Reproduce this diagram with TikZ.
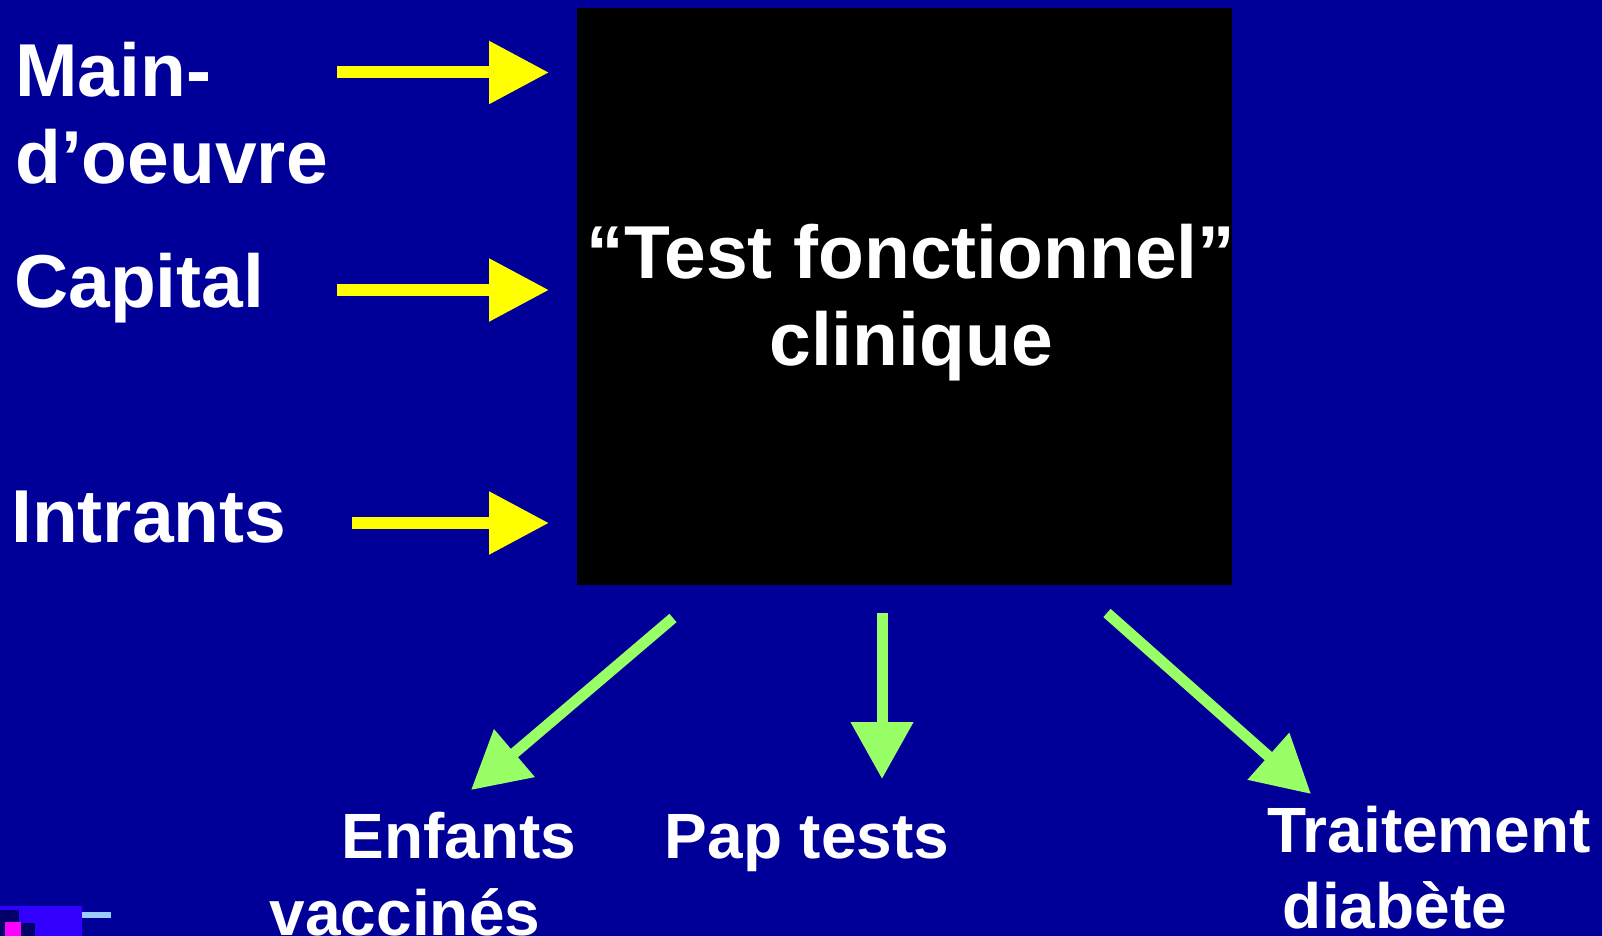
\documentclass[tikz,border=0pt]{standalone}
\usepackage{fontspec}
\setmainfont{Liberation Sans}
\usetikzlibrary{arrows.meta}
\definecolor{bgblue}{RGB}{0,0,153}
\definecolor{arrowyellow}{RGB}{255,255,0}
\definecolor{arrowgreen}{RGB}{153,255,102}
\definecolor{decoblue}{RGB}{51,0,255}
\definecolor{deconavy}{RGB}{0,0,102}
\definecolor{decomagenta}{RGB}{255,0,255}
\definecolor{decolight}{RGB}{153,204,255}
\tikzset{
  lbl/.style={text=white, font=\bfseries\fontsize{75}{87}\selectfont, inner sep=0pt, anchor=base west},
  lblc/.style={text=white, font=\bfseries\fontsize{75}{87}\selectfont, inner sep=0pt, anchor=base},
  lbls/.style={text=white, font=\bfseries\fontsize{64}{72}\selectfont, inner sep=0pt, anchor=base},
  yarrow/.style={draw=arrowyellow, line width=12pt, -{Triangle[length=60pt,width=60pt]}, arrowyellow},
  garrow/.style={draw=arrowgreen, line width=11pt, -{Triangle[length=57pt,width=60pt]}, arrowgreen},
}
\begin{document}
\begin{tikzpicture}[x=1pt,y=-1pt]
\useasboundingbox (0,0) rectangle (1602,936);
\clip (0,0) rectangle (1602,936);
\fill[bgblue] (0,0) rectangle (1602,936);
% black box
\node[fill=black, minimum width=655pt, minimum height=577pt, inner sep=0pt, anchor=north west] (box) at (577,8) {};
\node[lblc] (t1) at (911,278) {“Test fonctionnel”};
\node[lblc] (t2) at (911,365) {clinique};
% left labels
\node[lbl] (main1) at (15,97) {Main-};
\node[lbl] (main2) at (15,184) {d’oeuvre};
\node[lbl] (capital) at (14,307) {Capital};
\node[lbl] (intrants) at (11,542) {Intrants};
% yellow arrows
\coordinate (ya1) at (337,72.5);
\coordinate (yb1) at (549,72.5);
\coordinate (ya2) at (337,290);
\coordinate (yb2) at (549,290);
\coordinate (ya3) at (352,523);
\coordinate (yb3) at (549,523);
\draw[yarrow] (ya1) -- (yb1);
\draw[yarrow] (ya2) -- (yb2);
\draw[yarrow] (ya3) -- (yb3);
% green arrows
\coordinate (ga1) at (673,618);
\coordinate (gb1) at (471,790);
\coordinate (ga2) at (882,613);
\coordinate (gb2) at (882,779);
\coordinate (ga3) at (1107,613);
\coordinate (gb3) at (1311,794);
\draw[garrow] (ga1) -- (gb1);
\draw[garrow] (ga2) -- (gb2);
\draw[garrow] (ga3) -- (gb3);
% bottom labels
\node[lbls] (enf1) at (459,858) {Enfants};
\node[lbls] (enf2) at (405,935) {vaccinés};
\node[lbls] (pap) at (807,858) {Pap tests};
\node[lbls] (trt1) at (1429,852) {Traitement};
\node[lbls] (trt2) at (1395,928) {diabète};
% corner decoration
\fill[decoblue] (0,906) rectangle (82,936);
\fill[deconavy] (0,910) rectangle (19,936);
\fill[deconavy] (21,923) rectangle (35,936);
\fill[decomagenta] (5,922) rectangle (21,936);
\fill[decolight] (82,912) rectangle (111,918);
\end{tikzpicture}
\end{document}
